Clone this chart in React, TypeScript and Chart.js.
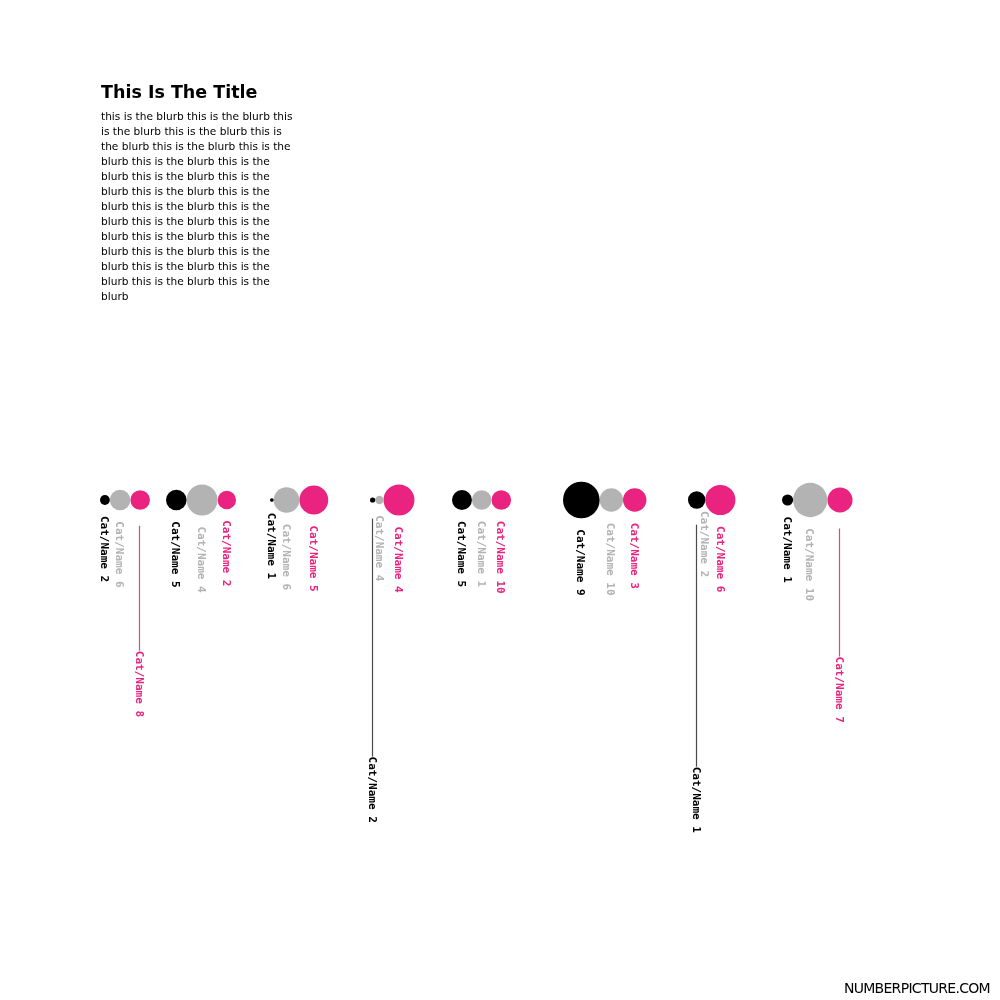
import React, { useEffect, useRef } from "react";
import { Chart, registerables } from "chart.js";

Chart.register(...registerables);

// ---------------- data ----------------
const groupIds = ["A", "B", "C", "D", "E", "F", "G", "H"];
const blackValues = [7, 31, 1, 2, 29, 98, 22, 9];
const grayValues = [31, 70, 48, 5, 28, 40, 0, 86];
const pinkValues = [28, 25, 61, 70, 28, 40, 66, 46];
const blackLabels = ["Cat/Name 2", "Cat/Name 5", "Cat/Name 1", "Cat/Name 2", "Cat/Name 5", "Cat/Name 9", "Cat/Name 1", "Cat/Name 1"];
const grayLabels = ["Cat/Name 6", "Cat/Name 4", "Cat/Name 6", "Cat/Name 4", "Cat/Name 1", "Cat/Name 10", "Cat/Name 2", "Cat/Name 10"];
const pinkLabels = ["Cat/Name 8", "Cat/Name 2", "Cat/Name 5", "Cat/Name 4", "Cat/Name 10", "Cat/Name 3", "Cat/Name 6", "Cat/Name 7"];

const titleText = "This Is The Title";
const blurbLines = [
  "this is the blurb this is the blurb this",
  "is the blurb this is the blurb this is",
  "the blurb this is the blurb this is the",
  "blurb this is the blurb this is the",
  "blurb this is the blurb this is the",
  "blurb this is the blurb this is the",
  "blurb this is the blurb this is the",
  "blurb this is the blurb this is the",
  "blurb this is the blurb this is the",
  "blurb this is the blurb this is the",
  "blurb this is the blurb this is the",
  "blurb this is the blurb this is the",
  "blurb",
];
const footerText = "NUMBERPICTURE.COM";

// ---------------- layout / style ----------------
const GROUP_LEFT = [100, 166, 270, 370, 452, 563, 688, 782];
const BASELINE_Y = 500;
const MAX_VALUE = 100;
const MAX_R = 18.5;
const COLORS = ["#000000", "#b3b3b3", "#e9237f"];
const LINE_COLORS = ["#4a4a4a", "#9a9a9a", "#ec3c8c"];
const LABEL_GAP = 11;
const LINE_GAP = 16;
const LABEL_FONT = "bold 11px 'DejaVu Sans Mono', monospace";
// label drops (group-series -> extra px down, with leader line)
const DROPPED: Record<string, number> = { "0-2": 130, "3-0": 243, "6-0": 247, "7-2": 133 };

const SERIES = [
  { values: blackValues, labels: blackLabels },
  { values: grayValues, labels: grayLabels },
  { values: pinkValues, labels: pinkLabels },
];

const radius = (v: number) => MAX_R * Math.sqrt(Math.max(v, 0) / MAX_VALUE);

function buildPoints() {
  const pts: { x: number; y: number; r: number }[][] = [[], [], []];
  groupIds.forEach((_, i) => {
    let cursor = GROUP_LEFT[i];
    SERIES.forEach((s, d) => {
      const r = radius(s.values[i]);
      pts[d].push({ x: cursor + r, y: BASELINE_Y, r });
      cursor += 2 * r;
    });
  });
  return pts;
}

const labelPlugin = {
  id: "bubbleLabels",
  afterDatasetsDraw(chart: any) {
    const ctx = chart.ctx as CanvasRenderingContext2D;
    ctx.save();
    ctx.font = LABEL_FONT;
    chart.data.datasets.forEach((_: any, d: number) => {
      const meta = chart.getDatasetMeta(d);
      meta.data.forEach((el: any, i: number) => {
        const r = radius(SERIES[d].values[i]);
        const x = el.x;
        const y = el.y;
        const drop = DROPPED[`${i}-${d}`] || 0;
        const top = y + r + LABEL_GAP + drop;
        if (drop) {
          const lx = Math.round(x) - 0.5;
          ctx.strokeStyle = LINE_COLORS[d];
          ctx.lineWidth = 1.2;
          ctx.beginPath();
          ctx.moveTo(lx, y + r + LINE_GAP);
          ctx.lineTo(lx, top);
          ctx.stroke();
        }
        ctx.save();
        ctx.translate(x - 1, top);
        ctx.rotate(Math.PI / 2);
        ctx.fillStyle = COLORS[d];
        ctx.textAlign = "left";
        ctx.textBaseline = "middle";
        ctx.fillText(SERIES[d].labels[i], 0, 0);
        ctx.restore();
      });
    });
    ctx.restore();
  },
};

export default function App() {
  const canvasRef = useRef<HTMLCanvasElement | null>(null);

  useEffect(() => {
    if (!canvasRef.current) return;
    const pts = buildPoints();
    const chart = new Chart(canvasRef.current, {
      type: "bubble",
      data: {
        datasets: SERIES.map((_, d) => ({
          label: ["black", "gray", "pink"][d],
          data: pts[d],
          backgroundColor: COLORS[d],
          borderWidth: 0,
          hoverBorderWidth: 0,
        })),
      },
      options: {
        animation: false,
        responsive: false,
        layout: { padding: 0, autoPadding: false },
        scales: {
          x: { type: "linear", min: 0, max: 1000, display: false },
          y: { type: "linear", min: 0, max: 1000, reverse: true, display: false },
        },
        plugins: {
          legend: { display: false },
          tooltip: { enabled: false },
        },
        events: [],
      },
      plugins: [labelPlugin],
    } as any);
    return () => chart.destroy();
  }, []);

  return (
    <div style={{ position: "absolute", left: 0, top: 0, width: 1000, height: 1000, background: "#fff", overflow: "hidden" }}>
      <canvas ref={canvasRef} width={1000} height={1000} style={{ position: "absolute", left: 0, top: 0 }} />
      <div
        style={{
          position: "absolute",
          left: 101,
          top: 83,
          fontFamily: "'DejaVu Sans', sans-serif",
          fontWeight: "bold",
          fontSize: 17.5,
          lineHeight: "18px",
          color: "#000",
          whiteSpace: "nowrap",
        }}
      >
        {titleText}
      </div>
      <div
        style={{
          position: "absolute",
          left: 101,
          top: 109,
          fontFamily: "'DejaVu Sans', sans-serif",
          fontSize: 10.6,
          lineHeight: "15px",
          color: "#000",
          whiteSpace: "nowrap",
        }}
      >
        {blurbLines.map((l, i) => (
          <div key={i}>{l}</div>
        ))}
      </div>
      <div
        style={{
          position: "absolute",
          right: 10,
          top: 980,
          fontFamily: "'DejaVu Sans', sans-serif",
          fontSize: 14,
          lineHeight: "16px",
          letterSpacing: "-0.7px",
          color: "#000",
          whiteSpace: "nowrap",
        }}
      >
        {footerText}
      </div>
    </div>
  );
}
